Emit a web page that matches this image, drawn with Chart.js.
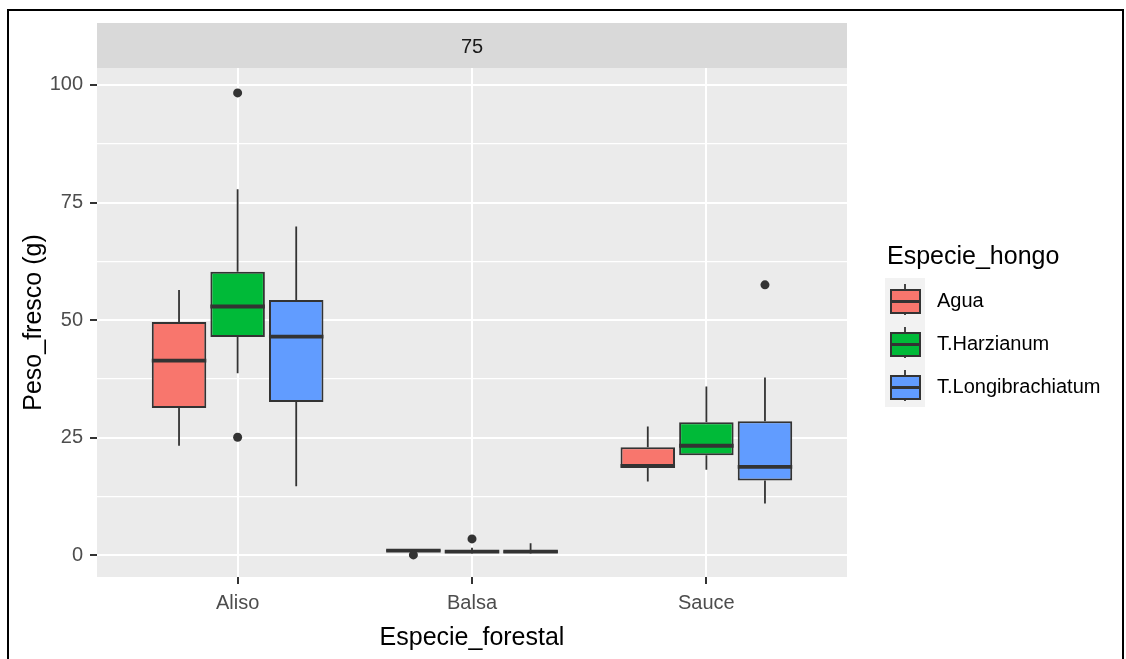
<!DOCTYPE html>
<html>
<head>
<meta charset="utf-8">
<script src="https://cdn.jsdelivr.net/npm/chart.js@4.4.1/dist/chart.umd.min.js"></script>
<style>
  body { margin: 0; background: #fff; }
  #frame { position: absolute; left: 7px; top: 9px; width: 1113px; height: 700px; border: 2px solid #000; }
  #myChart { position: absolute; left: 0; top: 0; }
</style>
</head>
<body>
<div id="frame"></div>
<canvas id="myChart" width="1126" height="659"></canvas>
<script>
// data
const categories = ['Aliso', 'Balsa', 'Sauce'];
const species = ['Agua', 'T.Harzianum', 'T.Longibrachiatum'];
const facetLabel = '75';
const yTicks = [0, 25, 50, 75, 100];
const yMinorTicks = [12.5, 37.5, 62.5, 87.5];

const aguaQ1  = [31.3, 0.8, 18.6];
const aguaMed = [41.4, 1.0, 19.0];
const aguaQ3  = [49.6, 1.2, 23.0];
const aguaLo  = [23.3, 0.8, 15.7];
const aguaHi  = [56.4, 1.3, 27.4];
const aguaOut = [[], [0.1], []];

const harzQ1  = [46.4, 0.5, 21.3];
const harzMed = [52.9, 0.8, 23.3];
const harzQ3  = [60.3, 1.1, 28.3];
const harzLo  = [38.7, 0.4, 18.2];
const harzHi  = [77.8, 1.6, 35.9];
const harzOut = [[98.3, 25.1], [3.5], []];

const longQ1  = [32.6, 0.5, 15.9];
const longMed = [46.5, 0.8, 18.8];
const longQ3  = [54.3, 1.1, 28.5];
const longLo  = [14.7, 0.4, 11.0];
const longHi  = [69.9, 2.6, 37.8];
const longOut = [[], [], [57.5]];

const fills = ['#F8766D', '#00BA38', '#619CFF'];
const lineCol = '#333333';

const stats = [
  {q1: aguaQ1, med: aguaMed, q3: aguaQ3, lo: aguaLo, hi: aguaHi, out: aguaOut},
  {q1: harzQ1, med: harzMed, q3: harzQ3, lo: harzLo, hi: harzHi, out: harzOut},
  {q1: longQ1, med: longMed, q3: longQ3, lo: longLo, hi: longHi, out: longOut}
];

Chart.defaults.font.family = '"Liberation Sans", Arial, sans-serif';
Chart.defaults.color = '#4D4D4D';

const datasets = stats.map((s, i) => ({
  label: species[i],
  data: categories.map((c, j) => ({x: j + 1, y: [s.q1[j], s.q3[j]]})),
  backgroundColor: fills[i],
  borderColor: lineCol,
  borderWidth: 2,
  borderSkipped: false,
  categoryPercentage: 0.75,
  barPercentage: 0.93
}));

// panel background + facet strip
const panelPlugin = {
  id: 'panel',
  beforeDraw(chart) {
    const {ctx, chartArea: a} = chart;
    ctx.save();
    ctx.fillStyle = '#EBEBEB';
    ctx.fillRect(a.left, a.top, a.right - a.left, a.bottom - a.top);
    ctx.fillStyle = '#D9D9D9';
    ctx.fillRect(a.left, 23, a.right - a.left, a.top - 23);
    ctx.fillStyle = '#1A1A1A';
    ctx.font = '20px "Liberation Sans", Arial, sans-serif';
    ctx.textAlign = 'center';
    ctx.textBaseline = 'middle';
    ctx.fillText(facetLabel, (a.left + a.right) / 2, (23 + a.top) / 2 + 2);
    ctx.restore();
  }
};

// whiskers, medians, outliers
const boxPlugin = {
  id: 'boxes',
  afterDatasetsDraw(chart) {
    const {ctx} = chart;
    const y = chart.scales.y;
    ctx.save();
    ctx.strokeStyle = lineCol;
    ctx.fillStyle = lineCol;
    stats.forEach((s, i) => {
      const meta = chart.getDatasetMeta(i);
      meta.data.forEach((el, j) => {
        const x = el.x, w = el.width;
        ctx.lineWidth = 1.8;
        ctx.beginPath();
        ctx.moveTo(x, y.getPixelForValue(s.q3[j]));
        ctx.lineTo(x, y.getPixelForValue(s.hi[j]));
        ctx.moveTo(x, y.getPixelForValue(s.q1[j]));
        ctx.lineTo(x, y.getPixelForValue(s.lo[j]));
        ctx.stroke();
        ctx.lineWidth = 3.8;
        ctx.beginPath();
        const my = y.getPixelForValue(s.med[j]);
        ctx.moveTo(x - w / 2, my);
        ctx.lineTo(x + w / 2, my);
        ctx.stroke();
        s.out[j].forEach(v => {
          ctx.beginPath();
          ctx.arc(x, y.getPixelForValue(v), 4.5, 0, Math.PI * 2);
          ctx.fill();
        });
      });
    });
    ctx.restore();
  }
};

// legend on the right
const legendPlugin = {
  id: 'ggLegend',
  afterDraw(chart) {
    const {ctx} = chart;
    ctx.save();
    ctx.fillStyle = '#000';
    ctx.font = '25px "Liberation Sans", Arial, sans-serif';
    ctx.textBaseline = 'middle';
    ctx.fillText('Especie_hongo', 887, 257);
    ctx.font = '20px "Liberation Sans", Arial, sans-serif';
    species.forEach((name, i) => {
      const top = 278 + 43 * i;
      ctx.fillStyle = '#F2F2F2';
      ctx.fillRect(885, top, 40, 43);
      ctx.strokeStyle = lineCol;
      ctx.lineWidth = 1.8;
      ctx.beginPath();
      ctx.moveTo(905, top + 6);
      ctx.lineTo(905, top + 37);
      ctx.stroke();
      ctx.fillStyle = fills[i];
      ctx.fillRect(891, top + 12, 29, 23);
      ctx.lineWidth = 2;
      ctx.strokeRect(891, top + 12, 29, 23);
      ctx.lineWidth = 3;
      ctx.beginPath();
      ctx.moveTo(891, top + 23.5);
      ctx.lineTo(920, top + 23.5);
      ctx.stroke();
      ctx.fillStyle = '#000';
      ctx.fillText(name, 937, top + 23);
    });
    ctx.restore();
  }
};

const config = {
  type: 'bar',
  data: {datasets: datasets},
  options: {
    responsive: false,
    animation: false,
    layout: {padding: {top: 68, right: 279, left: 0, bottom: 0}},
    plugins: {legend: {display: false}, tooltip: {enabled: false}},
    scales: {
      x: {
        type: 'linear',
        min: 0.4,
        max: 3.6,
        offset: false,
        afterBuildTicks: function(scale) {
          scale.ticks = categories.map((c, j) => ({value: j + 1}));
        },
        afterFit: function(scale) { scale.height = 82; },
        ticks: {
          autoSkip: false,
          padding: 7,
          font: {size: 20},
          color: '#4D4D4D',
          callback: function(value) { return categories[value - 1]; }
        },
        grid: {offset: false, color: '#FFFFFF', lineWidth: 2, tickColor: lineCol, tickLength: 7, tickWidth: 2},
        border: {display: false},
        title: {display: true, text: 'Especie_forestal', color: '#000', font: {size: 25}, padding: {top: 0, bottom: 6}}
      },
      y: {
        min: -4.6,
        max: 103.6,
        afterBuildTicks: function(scale) {
          scale.ticks = yTicks.concat(yMinorTicks).sort((a, b) => a - b).map(v => ({value: v}));
        },
        afterFit: function(scale) { scale.width = 97; },
        ticks: {
          autoSkip: false,
          padding: 7,
          font: {size: 20},
          color: '#4D4D4D',
          callback: function(value) { return yTicks.includes(value) ? String(value) : ''; }
        },
        grid: {
          color: '#FFFFFF',
          lineWidth: ctx => (ctx.tick && yTicks.includes(ctx.tick.value)) ? 2 : 1.2,
          tickColor: ctx => (ctx.tick && yTicks.includes(ctx.tick.value)) ? lineCol : 'rgba(0,0,0,0)',
          tickLength: 7,
          tickWidth: 2
        },
        border: {display: false},
        title: {display: true, text: 'Peso_fresco (g)', color: '#000', font: {size: 25}, padding: {top: 19, bottom: 0}}
      }
    }
  },
  plugins: [panelPlugin, boxPlugin, legendPlugin]
};

const ctx = document.getElementById('myChart').getContext('2d');
new Chart(ctx, config);
</script>
</body>
</html>
